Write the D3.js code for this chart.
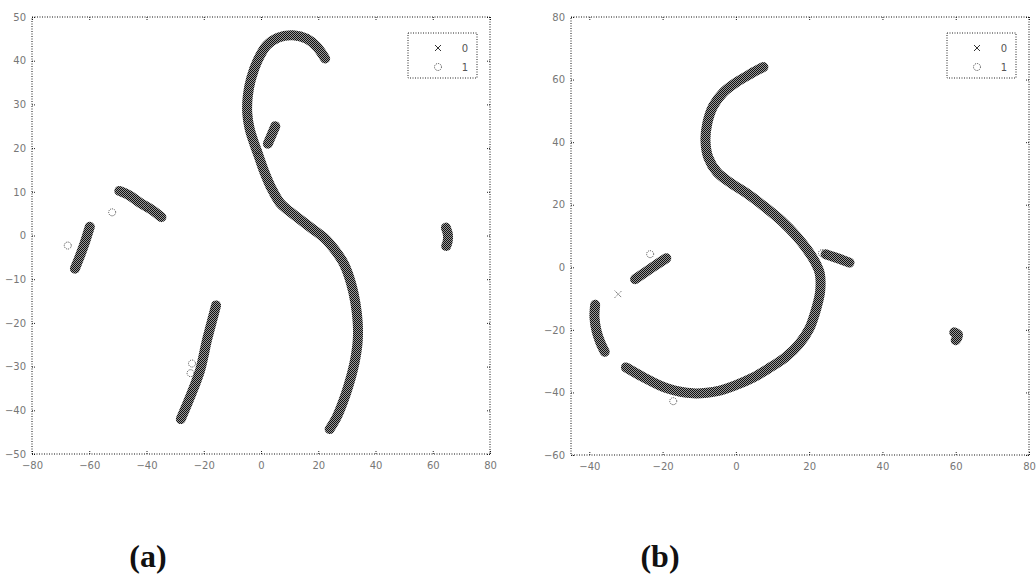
<!DOCTYPE html>
<html>
<head>
<meta charset="utf-8">
<script src="https://cdn.jsdelivr.net/npm/d3@7"></script>
<style>
  body { margin: 0; background: #ffffff; }
  svg { display: block; }
  text { font-family: "DejaVu Sans", sans-serif; }
  .caption { font-family: "Liberation Serif", serif; font-weight: bold; }
</style>
</head>
<body>
<div id="chart"></div>
<script>
// ---- panel (a) : dense class-0 strips ----
const aMainCurve = [[22.4, 40.5], [19.5, 43.2], [16, 45], [11.2, 45.8], [6, 45.3], [2, 43.5], [-1.2, 40], [-3.4, 36], [-4.6, 32], [-4.8, 28], [-4, 24.5], [-2.5, 21.3], [-0.7, 18], [1.2, 14.5], [3.5, 11], [6.6, 7.5], [10, 5.5], [14, 3.5], [18, 1.5], [22, -0.5], [26, -3.5], [29, -6.5], [31.5, -11], [33, -15.5], [33.8, -20], [33.8, -24], [33, -28], [32, -31], [30.5, -34.5], [28.7, -38], [26.5, -41.5], [24, -44.3]];
const aBranch = [[2.4, 21], [5, 25]];
const aUpperSeg = [[-49.5, 10.2], [-46, 9.2], [-42.3, 7.5], [-38, 5.8], [-34.8, 4.2]];
const aLeftSeg = [[-59.8, 2], [-62, -2.5], [-65, -7.6]];
const aLowerSeg = [[-15.7, -16], [-17.5, -20.5], [-18.9, -24], [-21.3, -30.9], [-24.8, -37], [-28, -42]];
const aBlob = [[64.6, 1.8], [65.3, 0.2], [65.2, -1.4], [64.7, -2.4]];
// class-1 points
const aCircles = [[-52, 5.3], [-67.5, -2.3], [-24.1, -29.3], [-24.6, -31.5], [-4.6, 27], [-1.2, 19.5], [-40, 6.5]];
const aCrosses = [];

// ---- panel (b) ----
const bMainCurve = [[7.5, 64], [4, 61.8], [0, 59], [-3.5, 55.8], [-6.2, 51.5], [-7.8, 46], [-8.3, 40.5], [-7.5, 35], [-5.2, 30.5], [-1.5, 27], [3, 23.6], [8, 19.2], [12.5, 14.8], [16.5, 10], [19.5, 5.6], [21.7, 1.5], [22.9, -2], [23, -7.7], [22, -13], [20.1, -19.5], [17.3, -24.5], [13.5, -28.8], [9, -32.3], [4.6, -35.3], [-0.5, -37.9], [-4.4, -39.4], [-11.7, -40.3], [-18.8, -38.7], [-25.3, -35.1], [-30, -32]];
const bBranch = [[24.5, 4.2], [28, 2.8], [31, 1.5]];
const bUpperSeg = [[-19, 2.9], [-23, -0.2], [-27.5, -3.8]];
const bVertSeg = [[-38.4, -12], [-38.6, -16], [-38, -20.5], [-37, -24], [-35.8, -27]];
const bBlob = [[59.6, -20.8], [60.6, -21.5], [60.4, -22.6], [60, -23.3]];
const bCircles = [[-23.4, 4.2], [-17.1, -42.8], [23.5, 4.5]];
const bCrosses = [[-32.1, -8.6]];

// ---- ticks and labels ----
const aXTicks = [-80, -60, -40, -20, 0, 20, 40, 60, 80];
const aYTicks = [-50, -40, -30, -20, -10, 0, 10, 20, 30, 40, 50];
const bXTicks = [-40, -20, 0, 20, 40, 60, 80];
const bYTicks = [-60, -40, -20, 0, 20, 40, 60, 80];
const legendLabels = ["0", "1"];
const legendMarkers = ["x", "o"];
const captions = ["(a)", "(b)"];

const panels = [
  {
    box: { left: 32, right: 490, top: 17, bottom: 454 },
    xDomain: [-80, 80], yDomain: [-50, 50],
    xTicks: aXTicks, yTicks: aYTicks,
    strips: [aMainCurve, aBranch, aUpperSeg, aLeftSeg, aLowerSeg, aBlob],
    circles: aCircles, crosses: aCrosses,
    caption: { x: 148, y: 567 },
  },
  {
    box: { left: 571, right: 1029, top: 17, bottom: 455 },
    xDomain: [-45, 80], yDomain: [-60, 80],
    xTicks: bXTicks, yTicks: bYTicks,
    strips: [bMainCurve, bBranch, bUpperSeg, bVertSeg, bBlob],
    circles: bCircles, crosses: bCrosses,
    caption: { x: 660, y: 567 },
  },
];

const svg = d3.select("#chart").append("svg")
  .attr("width", 1036).attr("height", 578);

/** Dither pattern that mimics the overlapping 'x' markers. */
const pat = svg.append("defs").append("pattern")
  .attr("id", "dots").attr("patternUnits", "userSpaceOnUse")
  .attr("width", 2).attr("height", 2);
pat.append("rect").attr("width", 2).attr("height", 2).attr("fill", "#9a9a9a");
pat.append("rect").attr("width", 1).attr("height", 1).attr("fill", "#111");
pat.append("rect").attr("x", 1).attr("y", 1).attr("width", 1).attr("height", 1).attr("fill", "#111");

const crossPath = (s) => `M${-s},${-s}L${s},${s}M${-s},${s}L${s},${-s}`;

panels.forEach((p, i) => {
  const b = p.box;
  const x = d3.scaleLinear().domain(p.xDomain).range([b.left, b.right]);
  const y = d3.scaleLinear().domain(p.yDomain).range([b.bottom, b.top]);
  const g = svg.append("g");

  // Strips of densely packed class-0 points
  const line = d3.line().x((d) => x(d[0])).y((d) => y(d[1])).curve(d3.curveCatmullRom.alpha(0.5));
  g.append("g")
    .selectAll("path")
    .data(p.strips)
    .join("path")
    .attr("d", line)
    .attr("fill", "none")
    .attr("stroke", "url(#dots)")
    .attr("stroke-width", 10)
    .attr("stroke-linecap", "round")
    .attr("stroke-linejoin", "round");

  // lone class-1 circles
  g.append("g")
    .selectAll("circle")
    .data(p.circles)
    .join("circle")
    .attr("cx", (d) => x(d[0]))
    .attr("cy", (d) => y(d[1]))
    .attr("r", 3.5)
    .attr("fill", "none")
    .attr("stroke", "#444")
    .attr("stroke-dasharray", "1,1");

  // lone class-0 crosses
  g.append("g")
    .selectAll("path")
    .data(p.crosses)
    .join("path")
    .attr("transform", (d) => `translate(${x(d[0])},${y(d[1])})`)
    .attr("d", crossPath(3.5))
    .attr("stroke", "#444")
    .attr("stroke-dasharray", "1,1");

  // Axes: dotted frame, inward ticks on all four sides
  const styleAxis = (sel) => {
    sel.select(".domain").remove();
    sel.selectAll(".tick line").attr("stroke", "#222").attr("stroke-dasharray", "1,1");
    sel.selectAll(".tick text").attr("fill", "#777").attr("font-size", 10);
  };
  g.append("g").attr("transform", `translate(0,${b.bottom})`)
    .call(d3.axisBottom(x).tickValues(p.xTicks).tickSize(-3).tickPadding(8))
    .call(styleAxis);
  g.append("g").attr("transform", `translate(0,${b.top})`)
    .call(d3.axisTop(x).tickValues(p.xTicks).tickSize(-3).tickFormat(""))
    .call(styleAxis);
  g.append("g").attr("transform", `translate(${b.left},0)`)
    .call(d3.axisLeft(y).tickValues(p.yTicks).tickSize(-3).tickPadding(6))
    .call(styleAxis);
  g.append("g").attr("transform", `translate(${b.right},0)`)
    .call(d3.axisRight(y).tickValues(p.yTicks).tickSize(-3).tickFormat(""))
    .call(styleAxis);
  g.selectAll(".tick text").attr("font-family", "DejaVu Sans");

  g.append("rect")
    .attr("x", b.left).attr("y", b.top)
    .attr("width", b.right - b.left).attr("height", b.bottom - b.top)
    .attr("fill", "none")
    .attr("stroke", "#111")
    .attr("stroke-dasharray", "1,1.5");

  // Legend in the upper right corner
  const lg = g.append("g").attr("transform", `translate(${b.right - 82},${b.top + 16})`);
  lg.append("rect")
    .attr("width", 69).attr("height", 45)
    .attr("fill", "#fff")
    .attr("stroke", "#222")
    .attr("stroke-dasharray", "1,1.5");
  const rows = lg.selectAll("g.row")
    .data(legendLabels)
    .join("g")
    .attr("class", "row")
    .attr("transform", (d, k) => `translate(0,${15 + k * 19})`);
  rows.each(function (d, k) {
    const r = d3.select(this);
    if (legendMarkers[k] === "x") {
      r.append("path").attr("transform", "translate(30,0)").attr("d", crossPath(3))
        .attr("stroke", "#333");
    } else {
      r.append("circle").attr("cx", 30).attr("r", 3.5).attr("fill", "none")
        .attr("stroke", "#444").attr("stroke-dasharray", "1,1");
    }
  });
  rows.append("text")
    .attr("x", 57).attr("dy", "0.35em")
    .attr("text-anchor", "middle")
    .attr("font-size", 10)
    .attr("fill", "#555")
    .text((d) => d);

  // Sub-figure caption
  svg.append("text")
    .attr("class", "caption")
    .attr("x", p.caption.x).attr("y", p.caption.y)
    .attr("text-anchor", "middle")
    .attr("font-size", 32)
    .attr("fill", "#111")
    .text(captions[i]);
});
</script>
</body>
</html>
